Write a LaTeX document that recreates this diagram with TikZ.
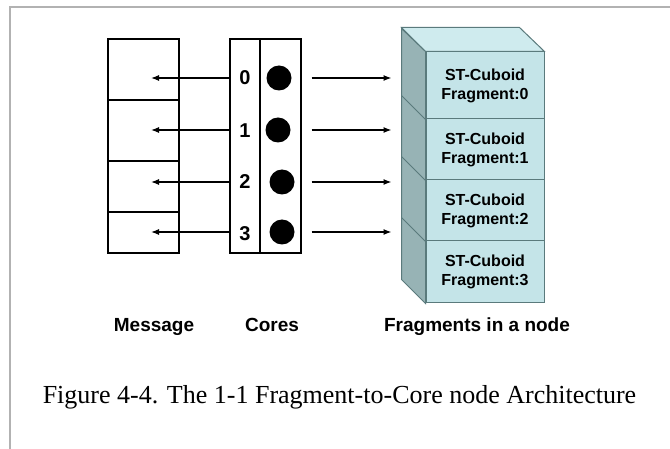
\documentclass[tikz,border=0pt]{standalone}
\usepackage{fontspec}
\setmainfont{Liberation Sans}
\newfontfamily\captionfont{Liberation Serif}
\usetikzlibrary{arrows.meta}
\definecolor{fragfront}{HTML}{C4E4E8}
\definecolor{fragtop}{HTML}{CFEBEE}
\definecolor{fragside}{HTML}{97B3B5}
\definecolor{fragedge}{HTML}{5A7A7C}

\begin{document}
\begin{tikzpicture}[x=1pt,y=-1pt,
  >={Latex[length=8pt,width=6pt]},
  cell/.style={draw,line width=1.2pt,inner sep=0pt,minimum width=71pt},
  frag/.style={draw=fragedge,fill=fragfront,line width=1pt,inner sep=0pt,minimum width=118pt,align=center,font=\fontsize{16}{19}\selectfont\bfseries},
  coredot/.style={circle,fill=black,minimum size=25pt,inner sep=0pt},
  num/.style={font=\fontsize{20}{20}\selectfont\bfseries},
  lbl/.style={anchor=base,font=\fontsize{19}{19}\selectfont\bfseries}]
  \useasboundingbox (0,0) rectangle (670,449);
  \draw[black!30,line width=2pt] (9.5,449) -- (9.5,7.5) -- (670,7.5);
  \node[cell,minimum height=61pt] at (143.5,69.5) (msg0) {};
  \node[cell,minimum height=61pt] at (143.5,130.5) (msg1) {};
  \node[cell,minimum height=51pt] at (143.5,186) (msg2) {};
  \node[cell,minimum height=41pt] at (143.5,232.5) (msg3) {};
  \node[cell,minimum height=214pt] at (265.5,146) (cores) {};
  \draw[line width=2pt] ([xshift=-5.5pt]cores.north) -- ([xshift=-5.5pt]cores.south);
  \node[num] at (245,78) (n0) {0};
  \node[num] at (245,131) (n1) {1};
  \node[num] at (245,182) (n2) {2};
  \node[num] at (245,234) (n3) {3};
  \node[coredot] at (279,78) (dot0) {};
  \node[coredot] at (278,130) (dot1) {};
  \node[coredot] at (282,182) (dot2) {};
  \node[coredot] at (282,232) (dot3) {};
  \node[frag,minimum height=67pt] at (485,85.5) (frag0) {ST-Cuboid\\Fragment:0};
  \node[frag,minimum height=61pt] at (485,149.5) (frag1) {ST-Cuboid\\Fragment:1};
  \node[frag,minimum height=61pt] at (485,210.5) (frag2) {ST-Cuboid\\Fragment:2};
  \node[frag,minimum height=62pt] at (485,272) (frag3) {ST-Cuboid\\Fragment:3};
  \filldraw[fill=fragtop,draw=fragedge,line width=1pt] (frag0.north west) -- ++(-24,-24) -- ++(118,0) -- (frag0.north east) -- cycle;
  \filldraw[fill=fragside,draw=fragedge,line width=1pt] (frag3.south west) -- ++(-24,-24) -- ++(0,-251) -- (frag0.north west) -- cycle;
  \foreach \f in {frag0,frag1,frag2}
    \draw[fragedge,line width=1pt] (\f.south west) -- ++(-24,-24);
  \foreach \i in {0,...,3} {
    \draw[->,line width=1.2pt,shorten >=7.5pt] (dot\i -| cores.west) -- (dot\i -| msg\i.center);
    \draw[->,line width=1.2pt,shorten <=10pt,shorten >=34pt] (dot\i -| cores.east) -- (dot\i -| frag\i.west);
  }
  \node[lbl] at (154,331) (msglbl) {Message};
  \node[lbl] at (272,331) (corelbl) {Cores};
  \node[lbl] at (477,331) (fraglbl) {Fragments in a node};
  \node[anchor=base,font=\captionfont\fontsize{26}{26}\selectfont] at (339.5,403) (caption) {Figure 4-4. The 1-1 Fragment-to-Core node Architecture};
\end{tikzpicture}
\end{document}
